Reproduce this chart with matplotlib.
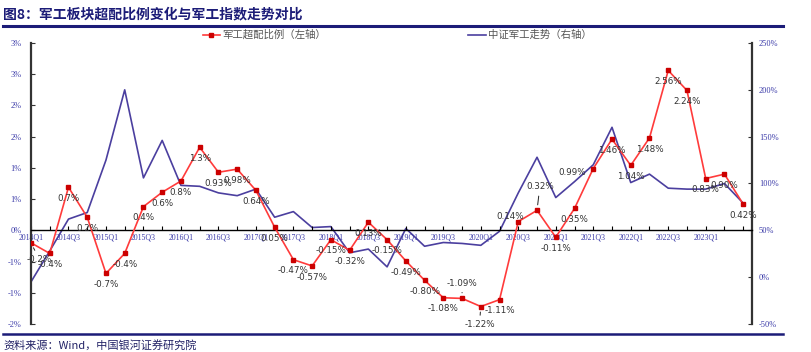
import numpy as np
import matplotlib
matplotlib.use("Agg")
import matplotlib.pyplot as plt
from matplotlib.lines import Line2D

plt.rcParams['font.family'] = ['Noto Sans CJK SC', 'DejaVu Sans']

# ---------------- data ----------------
quarters = ['2014Q1', '2014Q2', '2014Q3', '2014Q4',
            '2015Q1', '2015Q2', '2015Q3', '2015Q4',
            '2016Q1', '2016Q2', '2016Q3', '2016Q4',
            '2017Q1', '2017Q2', '2017Q3', '2017Q4',
            '2018Q1', '2018Q2', '2018Q3', '2018Q4',
            '2019Q1', '2019Q2', '2019Q3', '2019Q4',
            '2020Q1', '2020Q2', '2020Q3', '2020Q4',
            '2021Q1', '2021Q2', '2021Q3', '2021Q4',
            '2022Q1', '2022Q2', '2022Q3', '2022Q4',
            '2023Q1', '2023Q2', '2023Q3']

# quarters shown as x tick labels
shown_quarters = ['2014Q1', '2014Q3', '2015Q1', '2015Q3', '2016Q1', '2016Q3',
                  '2017Q1', '2017Q3', '2018Q1', '2018Q3', '2019Q1', '2019Q3',
                  '2020Q1', '2020Q3', '2021Q1', '2021Q3', '2022Q1', '2022Q3',
                  '2023Q1']

overweight = [-0.20, -0.37, 0.69, 0.21,
              -0.69, -0.37, 0.38, 0.61,
              0.79, 1.33, 0.93, 0.98,
              0.64, 0.05, -0.47, -0.57,
              -0.15, -0.32, 0.13, -0.15,
              -0.49, -0.80, -1.08, -1.09,
              -1.22, -1.11, 0.14, 0.32,
              -0.11, 0.35, 0.99, 1.46,
              1.04, 1.48, 2.56, 2.24,
              0.83, 0.90, 0.42]

overweight_labels = ['-0.2%', '-0.4%', '0.7%', '0.2%',
                     '-0.7%', '-0.4%', '0.4%', '0.6%',
                     '0.8%', '1.3%', '0.93%', '0.98%',
                     '0.64%', '0.05%', '-0.47%', '-0.57%',
                     '-0.15%', '-0.32%', '0.13%', '-0.15%',
                     '-0.49%', '-0.80%', '-1.08%', '-1.09%',
                     '-1.22%', '-1.11%', '0.14%', '0.32%',
                     '-0.11%', '0.35%', '0.99%', '1.46%',
                     '1.04%', '1.48%', '2.56%', '2.24%',
                     '0.83%', '0.90%', '0.42%']

index_trend = [-5, 28, 62, 69,
               125, 200, 106, 146,
               98, 97, 90, 87,
               94, 64, 70, 53,
               54, 26, 30, 11,
               52, 33, 37, 36,
               34, 49, 90, 128,
               85, 102, 120, 160,
               101, 110, 95, 94,
               94, 100, 79]

left_ticks = [-1.5, -1.0, -0.5, 0.0, 0.5, 1.0, 1.5, 2.0, 2.5, 3.0]
left_tick_labels = ['-2%', '-1%', '-1%', '0%', '1%', '1%', '2%', '2%', '3%', '3%']
right_ticks = [-50, 0, 50, 100, 150, 200, 250]
right_tick_labels = ['-50%', '0%', '50%', '100%', '150%', '200%', '250%']

title = '图8：军工板块超配比例变化与军工指数走势对比'
legend_red = '军工超配比例（左轴）'
legend_blue = '中证军工走势（右轴）'
source = '资料来源：Wind，中国银河证券研究院'

# ---------------- style ----------------
RED = '#ff3b3b'
RED_MK = '#cc0000'
BLUE = '#4b3f9f'
TICK_BLUE = '#3a3aa8'
NAVY = '#1c1c78'

# label offsets in points (default: below the point)
special_offsets = {0: (6, -12), 23: (0, 11), 24: (-1, -13), 26: (-6, 4),
                   27: (2, 17), 30: (-15, -3)}
leader = {0, 23, 24, 27}

W, H = 812, 352
fig = plt.figure(figsize=(W / 100, H / 100), dpi=100)
ax = fig.add_axes([31 / W, 1 - 324 / H, (752 - 31) / W, (324 - 43) / H])
ax2 = ax.twinx()

# spines first (set_position resets ticks)
for a in (ax, ax2):
    a.spines['top'].set_visible(False)
ax.spines['bottom'].set_position(('data', 0))
ax.spines['bottom'].set_linewidth(1.0)
ax.spines['left'].set_linewidth(1.6)
ax.spines['left'].set_color('#333333')
ax.spines['right'].set_visible(False)
ax2.spines['bottom'].set_visible(False)
ax2.spines['left'].set_visible(False)
ax2.spines['right'].set_linewidth(1.6)
ax2.spines['right'].set_color('#333333')

x = np.arange(len(quarters))
ax2.plot(x, index_trend, color=BLUE, lw=1.2, zorder=2)
ax.plot(x, overweight, color=RED, lw=1.2, marker='s', ms=3,
        mfc=RED_MK, mec=RED_MK, zorder=3)
ax.set_zorder(ax2.get_zorder() + 1)
ax.patch.set_visible(False)

ax.set_xlim(0, 38.47)
ax.set_ylim(-1.5, 3.0)
ax2.set_ylim(-50, 250)

ax.set_yticks(left_ticks)
ax.set_yticklabels(left_tick_labels, family='Liberation Serif', fontsize=6, color=TICK_BLUE)
ax2.set_yticks(right_ticks)
ax2.set_yticklabels(right_tick_labels, family='Liberation Serif', fontsize=6, color=TICK_BLUE)

ax.set_xticks(x)
ax.set_xticklabels([q if q in shown_quarters else '' for q in quarters],
                   family='Liberation Serif', fontsize=5.6, color=TICK_BLUE)
ax.tick_params(axis='x', direction='in', length=3, width=0.8, pad=2, colors='black',
               labelcolor=TICK_BLUE, labelsize=5.6)
ax.tick_params(axis='y', direction='in', length=3, width=0.8, pad=7, colors='#333333',
               labelcolor=TICK_BLUE, labelsize=6)
ax2.tick_params(axis='y', direction='in', length=3, width=0.8, pad=5, colors='#333333',
                labelcolor=TICK_BLUE, labelsize=6)

for i, (v, lab) in enumerate(zip(overweight, overweight_labels)):
    dx, dy = special_offsets.get(i, (0, -8))
    kw = {}
    if i in leader:
        kw['arrowprops'] = dict(arrowstyle='-', color='#222222', lw=0.7,
                                shrinkA=1.5, shrinkB=4)
    ax.annotate(lab, (i, v), xytext=(dx, dy), textcoords='offset points',
                ha='center', va='center', fontsize=6.3, color='#333333',
                family='DejaVu Sans', zorder=5, **kw)

# legend
handles = [Line2D([], [], color=RED, lw=1.2, marker='s', ms=3, mfc=RED_MK, mec=RED_MK),
           Line2D([], [], color=BLUE, lw=1.2)]
leg = fig.legend(handles, [legend_red, legend_blue], ncol=2, frameon=False,
                 loc='center', bbox_to_anchor=(397 / W, 1 - 35 / H),
                 fontsize=7.5, handlelength=1.7, handletextpad=0.2, columnspacing=13.6)
for t in leg.get_texts():
    t.set_color('#555555')

# title & decorations
fig.text(3 / W, 1 - 14 / H, title, fontsize=10, weight='bold', color=NAVY,
         ha='left', va='center')
fig.add_artist(Line2D([3 / W, 783 / W], [1 - 26 / H] * 2, lw=2.2, color=NAVY))
fig.add_artist(Line2D([3 / W, 783 / W], [1 - 334 / H] * 2, lw=1.8, color=NAVY))
fig.text(3 / W, 1 - 345 / H, source, fontsize=8, color='#222266', style='italic',
         ha='left', va='center')

fig.savefig('out.png', dpi=100)
